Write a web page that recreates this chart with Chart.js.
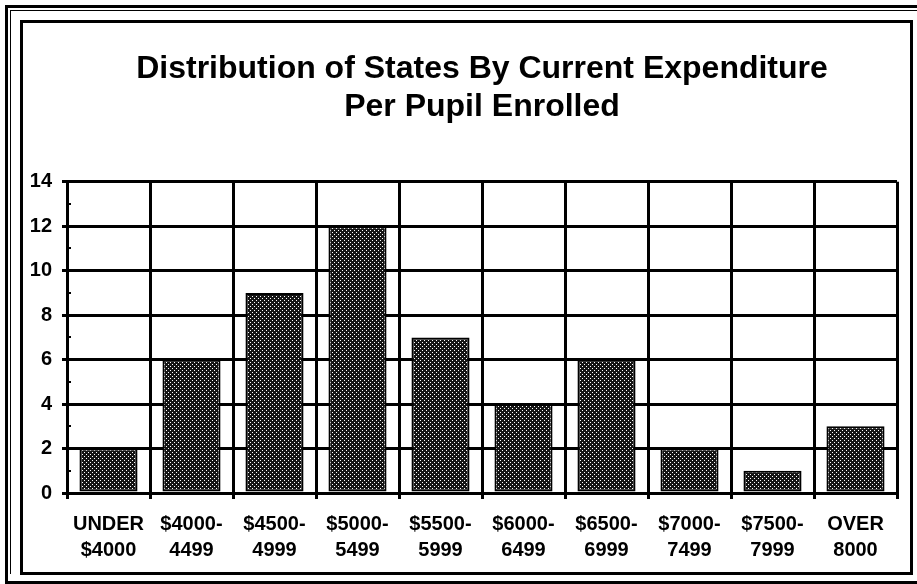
<!DOCTYPE html>
<html>
<head>
<meta charset="utf-8">
<script src="https://cdn.jsdelivr.net/npm/chart.js@4"></script>
<style>
  html, body { margin: 0; padding: 0; background: #fff; }
  #wrap { position: relative; width: 917px; height: 584px; overflow: hidden; background: #fff; }
  .f { position: absolute; box-sizing: border-box; }
  #o1 { left: 5px; top: 5px; width: 940px; height: 579px; border: 3px solid #000; border-right: none; }
  #o2 { left: 10px; top: 10px; width: 940px; height: 564px; border: 1px solid #000; border-right: none; border-bottom: none; }
  #inner { left: 20px; top: 20px; width: 893px; height: 555px; border: 3px solid #000; }
  canvas { position: absolute; left: 0; top: 0; }
</style>
</head>
<body>
<div id="wrap">
  <div class="f" id="o1"></div>
  <div class="f" id="o2"></div>
  <div class="f" id="inner"></div>
  <canvas id="c" width="917" height="584"></canvas>
</div>
<script>
const titleLines = ["Distribution of States By Current Expenditure", "Per Pupil Enrolled"];
const categories = [
  ["UNDER", "$4000"], ["$4000-", "4499"], ["$4500-", "4999"], ["$5000-", "5499"],
  ["$5500-", "5999"], ["$6000-", "6499"], ["$6500-", "6999"], ["$7000-", "7499"],
  ["$7500-", "7999"], ["OVER", "8000"]
];
const stateCounts = [2, 6, 9, 12, 7, 4, 6, 2, 1, 3];
const yMin = 0, yMax = 14, yStep = 2;
const minorTickValues = [1, 3, 5, 7, 9, 11, 13];

function makePattern() {
  const p = document.createElement('canvas');
  p.width = 4; p.height = 4;
  const g = p.getContext('2d');
  g.fillStyle = '#151515';
  g.fillRect(0, 0, 4, 4);
  g.fillStyle = '#ffffff';
  g.fillRect(0, 0, 1, 1);
  g.fillRect(2, 2, 1, 1);
  return g.createPattern(p, 'repeat');
}

const minorTicks = {
  id: 'minorTicks',
  afterDraw(chart) {
    const y = chart.scales.y;
    const ctx = chart.ctx;
    const x0 = chart.chartArea.left;
    ctx.save();
    ctx.strokeStyle = '#000';
    ctx.lineWidth = 2;
    minorTickValues.forEach(v => {
      const py = Math.round(y.getPixelForValue(v));
      ctx.beginPath();
      ctx.moveTo(x0, py);
      ctx.lineTo(x0 + 4, py);
      ctx.stroke();
    });
    ctx.restore();
  }
};

const font = 'Liberation Sans, Arial, Helvetica, sans-serif';

new Chart(document.getElementById('c'), {
  type: 'bar',
  data: {
    labels: categories,
    datasets: [{
      data: stateCounts,
      backgroundColor: makePattern(),
      borderColor: '#000',
      borderWidth: 2,
      borderSkipped: false,
      barPercentage: 0.7,
      categoryPercentage: 1.0
    }]
  },
  options: {
    responsive: false,
    animation: false,
    devicePixelRatio: 1,
    layout: { padding: { left: 20, right: 20, top: 0, bottom: 20 } },
    plugins: {
      legend: { display: false },
      tooltip: { enabled: false },
      title: {
        display: true,
        fullSize: false,
        text: titleLines,
        color: '#000',
        font: { family: font, size: 32, weight: 'bold', lineHeight: 1.2 },
        padding: { top: 50, bottom: 55 }
      }
    },
    scales: {
      x: {
        offset: true,
        grid: { display: true, offset: true, color: '#000', lineWidth: 3, tickLength: 6, drawTicks: true },
        border: { display: true, color: '#000', width: 3 },
        ticks: {
          color: '#000',
          font: { family: font, size: 20, weight: 'bold', lineHeight: 1.3 },
          padding: 12,
          maxRotation: 0,
          autoSkip: false
        },
        afterFit(s) { s.height = 71; }
      },
      y: {
        min: yMin, max: yMax,
        grid: { color: '#000', lineWidth: 3, tickLength: 5, drawTicks: true },
        border: { display: true, color: '#000', width: 3 },
        ticks: {
          stepSize: yStep,
          color: '#000',
          font: { family: font, size: 20, weight: 'bold' },
          padding: 10
        },
        afterFit(s) { s.width = 47; }
      }
    }
  },
  plugins: [minorTicks]
});
</script>
</body>
</html>
